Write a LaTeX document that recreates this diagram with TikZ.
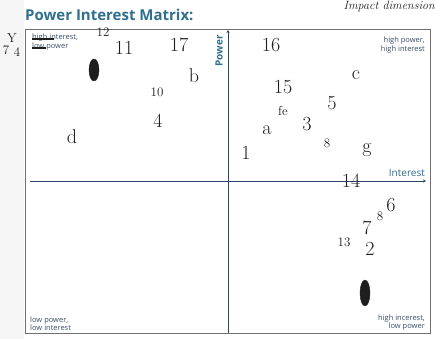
\documentclass[tikz,border=0pt]{standalone}
\usepackage{fontspec}
\setsansfont{Open Sans}
\usetikzlibrary{arrows.meta}
\definecolor{teal1}{HTML}{2F6F8F}
\definecolor{axis}{HTML}{2E4466}
\definecolor{frame}{HTML}{707070}
\definecolor{ink}{HTML}{1E1E1E}
\definecolor{lbl}{HTML}{3B4E6A}
\tikzset{
  hw/.style={text=ink, font=\fontsize{20}{20}\selectfont, inner sep=0pt},
  hws/.style={text=ink, font=\fontsize{13}{13}\selectfont, inner sep=0pt},
  ql/.style={text=lbl, font=\sffamily\fontsize{7.5}{8.5}\selectfont, inner sep=0pt, align=left},
  qr/.style={text=lbl, font=\sffamily\fontsize{7.5}{8.5}\selectfont, inner sep=0pt, align=right},
  ax/.style={draw=axis, line width=0.9pt, -{Stealth[length=3pt,width=3pt]}},
  blob/.style={fill=ink, draw=ink}
}
\begin{document}
\begin{tikzpicture}[x=1pt,y=-1pt]
\useasboundingbox (0,0) rectangle (436,339);
\fill[white] (0,0) rectangle (436,339);
\fill[gray!8] (0,0) rectangle (24,339);
% title
\node[anchor=west, text=teal1, font=\sffamily\bfseries\fontsize{15}{15}\selectfont, inner sep=0pt] (title) at (25,15) {Power Interest Matrix:};
\node[anchor=north east, text=ink, font=\itshape\fontsize{12}{12}\selectfont, inner sep=0pt] (impact) at (435,1) {Impact dimension};
% frame
\draw[frame, line width=0.8pt] (25,29) rectangle (430,333);
% axes
\coordinate (xl) at (30,181);
\coordinate (xr) at (426,181);
\coordinate (yb) at (228,333);
\coordinate (yt) at (228,30);
\draw[ax] (xl) -- (xr);
\draw[ax] (yb) -- (yt);
\node[anchor=south east, text=teal1, font=\sffamily\fontsize{10}{10}\selectfont, inner sep=1pt] (interest) at (426,178) {Interest};
\node[rotate=90, anchor=south east, text=teal1, font=\sffamily\bfseries\fontsize{10}{10}\selectfont, inner sep=1pt] (power) at (224,34) {Power};
% quadrant labels
\node[ql, anchor=north west] (q1) at (32,34) {high interest,\\low power};
\draw[ink, line width=1.5pt] (32,39) -- (54,39);
\draw[ink, line width=1.2pt] (32,48) -- (46,48);
\node[qr, anchor=north east] (q2) at (425,37) {high power,\\high interest};
\node[ql, anchor=south west] (q3) at (30,331) {low power,\\low interest};
\node[qr, anchor=south east] (q4) at (425,331) {high incerest,\\low power};
% margin marks
\node[hws] (m1) at (12,38) {Y};
\node[hws] (m2) at (6,50) {7};
\node[hws] (m3) at (17,52) {4};
% handwritten items
\node[hws] (n12) at (103,32) {12};
\node[hw] (n11) at (124,48) {11};
\node[hw] (n17) at (179,45) {17};
\node[hw] (n16) at (271,45) {16};
\node[hw] (nb) at (194,76) {b};
\node[hws] (n10) at (157,92) {10};
\node[hw] (n4) at (158,121) {4};
\node[hw] (nd) at (72,137) {d};
\node[hw] (n15) at (283,87) {15};
\node[hw] (nc) at (356,75) {c};
\node[hws] (nfe) at (283,111) {fe};
\node[hw] (n5) at (332,103) {5};
\node[hw] (na) at (267,130) {a};
\node[hw] (n3) at (307,124) {3};
\node[hws] (n8) at (327,143) {8};
\node[hw] (ng) at (367,150) {g};
\node[hw] (n1) at (246,153) {1};
\node[hw] (n14) at (351,181) {14};
\node[hw] (n6) at (391,205) {6};
\node[hws] (n8b) at (380,216) {8};
\node[hw] (n7) at (367,228) {7};
\node[hws] (n13) at (344,242) {13};
\node[hw] (n2) at (370,249) {2};
% scribbled-out marks
\path[blob] (94,70) ellipse [x radius=5, y radius=11];
\path[blob] (365,293) ellipse [x radius=5, y radius=13];
\end{tikzpicture}
\end{document}
